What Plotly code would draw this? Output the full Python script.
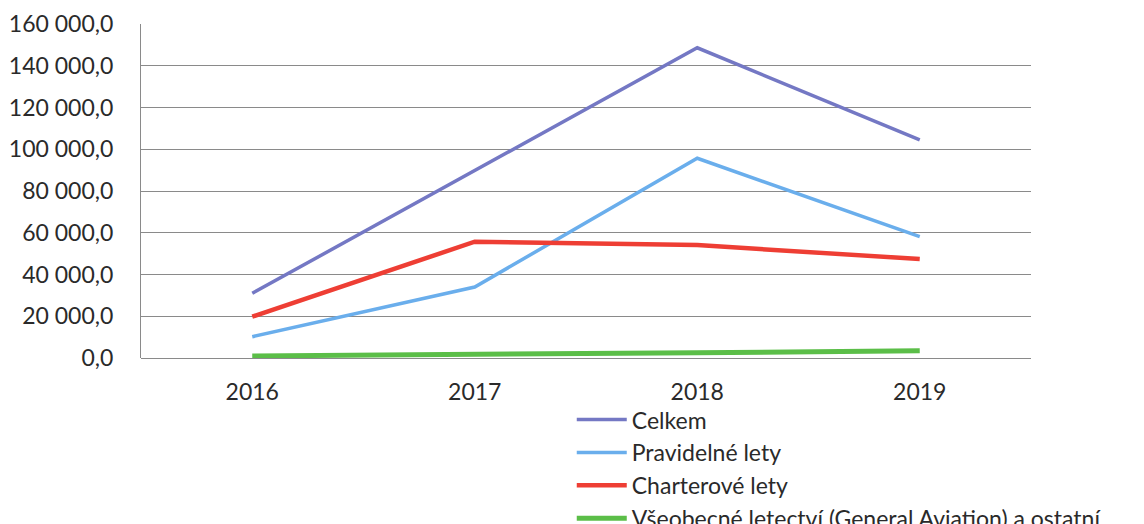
import plotly.graph_objects as go

years = ["2016", "2017", "2018", "2019"]
celkem = [31000, 90000, 148600, 104500]
pravidelne = [10200, 34000, 95700, 58100]
charterove = [19800, 55700, 54100, 47400]
general_aviation = [1000, 1600, 2500, 3500]

series_names = [
    "Celkem",
    "Pravidelné lety",
    "Charterové lety",
    "Všeobecné letectví (General Aviation) a ostatní",
]
series_values = [celkem, pravidelne, charterove, general_aviation]
series_colors = ["#7478C4", "#6AAEEC", "#EE3E34", "#5BBE48"]
series_widths = [3.5, 3.5, 4.5, 5]

fig = go.Figure()
for i, (name, vals, col, w) in enumerate(zip(series_names, series_values, series_colors, series_widths)):
    fig.add_trace(go.Scatter(
        x=years, y=vals, name=name, mode="lines",
        line=dict(color=col, width=w),
        legendgroup=f"g{i}",
    ))

fig.update_layout(
    width=1144, height=524,
    margin=dict(l=133, r=121, t=16, b=174, autoexpand=False),
    paper_bgcolor="white", plot_bgcolor="white",
    separators=", ",
    font=dict(family="Lato, Carlito, Arial, sans-serif", size=23, color="#2a2a2a"),
    showlegend=True,
    legend=dict(
        orientation="v", x=0.484, xanchor="left", y=-0.12, yanchor="top",
        font=dict(size=23, color="#2a2a2a"),
        tracegroupgap=0, traceorder="grouped", itemwidth=50,
        bgcolor="rgba(0,0,0,0)",
    ),
    xaxis=dict(
        type="category", range=[-0.5, 3.5], showgrid=False, showline=False,
        ticks="", tickfont=dict(size=23), zeroline=False, ticklabelstandoff=18,
    ),
    yaxis=dict(
        range=[0, 160000], dtick=20000, tickformat=",.1f",
        showgrid=True, gridcolor="#8a8a8a", gridwidth=1.2,
        zeroline=True, zerolinecolor="#8a8a8a", zerolinewidth=1.2,
        showline=True, linecolor="#8a8a8a", linewidth=1.2,
        ticks="", tickfont=dict(size=23), ticklabelstandoff=22,
    ),
)

fig.write_html("out.html")
